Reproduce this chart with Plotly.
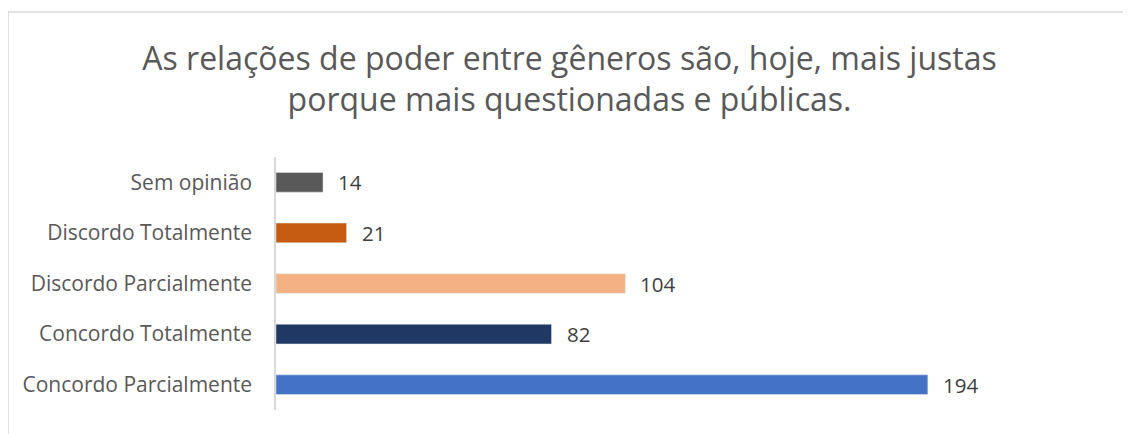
import plotly.graph_objects as go

# ------------------------
# Data
# ------------------------
categories = [
    "Concordo Parcialmente",
    "Concordo Totalmente",
    "Discordo Parcialmente",
    "Discordo Totalmente",
    "Sem opinião",
]
values = [194, 82, 104, 21, 14]
bar_colors = ["#4472C4", "#203864", "#F4B183", "#C55A11", "#595959"]

title_text = ("As relações de poder entre gêneros são, hoje, mais justas<br>"
              "porque mais questionadas e públicas.")

FONT = "Open Sans"

# ------------------------
# Figure
# ------------------------
fig = go.Figure()
fig.add_trace(go.Bar(
    x=values,
    y=categories,
    orientation="h",
    marker_color=bar_colors,
    width=0.39,
    hoverinfo="x+y",
))

# value labels to the right of each bar
for cat, val in zip(categories, values):
    fig.add_annotation(
        x=val, y=cat, text=str(val),
        showarrow=False, xanchor="left", xshift=13,
        font=dict(family=FONT, size=20.5, color="#404040"),
    )

# light grey chart border
fig.add_shape(
    type="rect", xref="paper", yref="paper",
    x0=-0.319, x1=1.0167, y0=-0.3, y1=1.573,
    line=dict(color="#D9D9D9", width=1.5),
)

# page body has an 8px margin, so the figure is 16px smaller than the window
fig.update_layout(
    width=1123, height=426,
    margin=dict(l=268, r=15, t=149, b=24),
    paper_bgcolor="white",
    plot_bgcolor="white",
    showlegend=False,
    title=dict(
        text=title_text,
        x=0.5, xref="container", xanchor="center",
        y=0.855, yref="container", yanchor="top",
        font=dict(family=FONT, size=32, color="#595959"),
    ),
    xaxis=dict(range=[0, 250], visible=False),
    yaxis=dict(
        categoryorder="array", categoryarray=categories,
        showline=True, linecolor="#D9D9D9", linewidth=1.5,
        showgrid=False, ticks="", ticklabelstandoff=18,
        tickfont=dict(family=FONT, size=21, color="#595959"),
    ),
    font=dict(family=FONT),
)

fig.write_html("out.html")
